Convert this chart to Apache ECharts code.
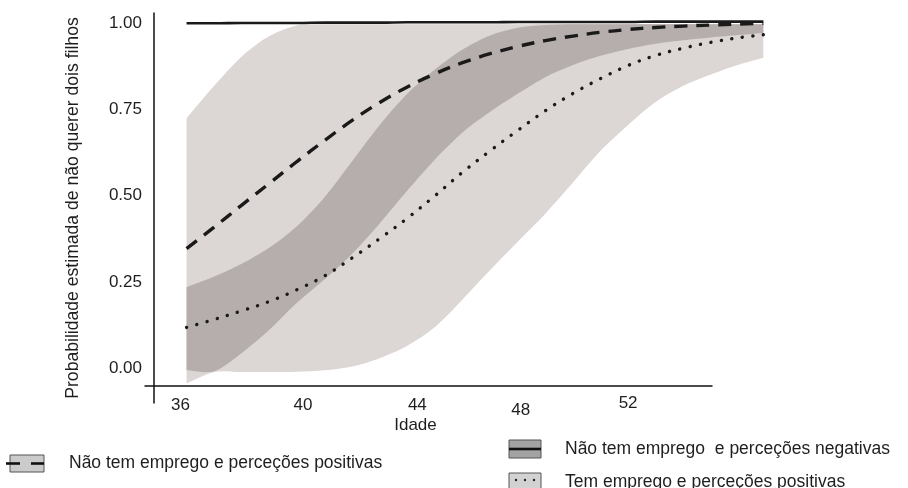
<!DOCTYPE html>
<html>
<head>
<meta charset="utf-8">
<script src="https://cdn.jsdelivr.net/npm/echarts@6/dist/echarts.min.js"></script>
<style>
html,body{margin:0;padding:0;background:#fff;}
#chart{width:908px;height:488px;}
</style>
</head>
<body>
<div id="chart"></div>
<script>
// ---- data ----
const ages = [36,37,38,39,40,41,42,43,44,45,46,47,48,49,50,51,52,53,54,55,56,56.9];

// Não tem emprego e perceções negativas (solid line)
const negNoJob = [0.999,0.999,1.000,1.000,1.000,1.001,1.001,1.001,1.002,1.002,1.002,1.002,1.003,1.003,1.003,1.003,1.003,1.004,1.004,1.004,1.004,1.004];

// Não tem emprego e perceções positivas (dashed line) and its interval
const posNoJob     = [0.347,0.409,0.473,0.536,0.599,0.660,0.718,0.770,0.815,0.853,0.885,0.911,0.932,0.949,0.962,0.973,0.981,0.987,0.991,0.994,0.997,0.999];
const posNoJobLow  = [-0.043,-0.010,0.045,0.112,0.190,0.258,0.332,0.420,0.515,0.605,0.683,0.743,0.795,0.843,0.878,0.905,0.925,0.940,0.950,0.958,0.965,0.971];
const posNoJobHigh = [0.724,0.818,0.903,0.962,0.993,0.996,0.996,0.996,0.996,0.996,0.996,0.996,0.996,0.997,0.997,0.997,0.997,0.997,0.997,0.997,0.997,0.997];

// Tem emprego e perceções positivas (dotted line) and its interval
const posJob     = [0.119,0.142,0.167,0.194,0.228,0.268,0.320,0.376,0.435,0.500,0.568,0.630,0.689,0.746,0.796,0.839,0.877,0.906,0.927,0.944,0.957,0.966];
const posJobLow  = [-0.004,-0.008,-0.010,-0.010,-0.009,-0.005,0.006,0.030,0.066,0.120,0.200,0.285,0.367,0.448,0.538,0.630,0.705,0.771,0.818,0.851,0.879,0.899];
const posJobHigh = [0.235,0.266,0.303,0.350,0.412,0.496,0.600,0.705,0.795,0.865,0.923,0.964,0.986,0.994,0.996,0.996,0.996,0.996,0.996,0.996,0.996,0.996];

const yTicks = [0, 0.25, 0.5, 0.75, 1];
const xTicks = [36, 40, 44, 48, 52];

const legendNames = [
  'Não tem emprego e perceções positivas',
  'Não tem emprego  e perceções negativas',
  'Tem emprego e perceções positivas'
];

// ---- derived band layers (union = light, overlap = dark) ----
const outerLow  = ages.map((a,i)=>Math.min(posJobLow[i], posNoJobLow[i]));
const outerHigh = ages.map((a,i)=>Math.max(posJobHigh[i], posNoJobHigh[i]));
const innerLow  = ages.map((a,i)=>Math.max(posJobLow[i], posNoJobLow[i]));
const innerHigh = ages.map((a,i)=>Math.min(posJobHigh[i], posNoJobHigh[i]));

const pairs = arr => ages.map((a,i)=>[a, arr[i]]);
const FONT = '"Liberation Sans", Arial, sans-serif';
const TXT = '#1e1e1e';
const LIGHT = '#dcd6d4';
const DARK = '#b5aeac';

// smooth curve through pixel points (Catmull-Rom as cubic Bezier)
function curveTo(pts){
  let d = '';
  const t = 0.9;
  for (let i = 0; i < pts.length - 1; i++){
    const p0 = pts[i-1] || pts[i], p1 = pts[i], p2 = pts[i+1], p3 = pts[i+2] || pts[i+1];
    const c1x = p1[0] + (p2[0]-p0[0])/6*t, c1y = p1[1] + (p2[1]-p0[1])/6*t;
    const c2x = p2[0] - (p3[0]-p1[0])/6*t, c2y = p2[1] - (p3[1]-p1[1])/6*t;
    d += ' C' + c1x + ' ' + c1y + ' ' + c2x + ' ' + c2y + ' ' + p2[0] + ' ' + p2[1];
  }
  return d;
}
function bandSeries(name, low, high, color, z){
  return {
    type:'custom', name:name, silent:true, z:z, clip:true,
    data:[[ages[0], low[0]]],
    renderItem:function(params, api){
      const up = ages.map((a,i)=>api.coord([a, high[i]]));
      const lo = ages.map((a,i)=>api.coord([a, low[i]])).reverse();
      const d = 'M' + up[0][0] + ' ' + up[0][1] + curveTo(up) +
                ' L' + lo[0][0] + ' ' + lo[0][1] + curveTo(lo) + ' Z';
      return {type:'path', shape:{pathData:d}, style:{fill:color, stroke:null}};
    }
  };
}

// per-label nudges to follow the reference's hand-placed tick labels
const xLabelStyle = {
  l36:{padding:[2,12,0,0]}, l40:{padding:[2,0,0,12]}, l44:{padding:[2,0,0,20]},
  l48:{padding:[7,0,0,6]}, l52:{padding:[0,0,0,0]}
};

const chart = echarts.init(document.getElementById('chart'));
chart.setOption({
  animation:false,
  backgroundColor:'#ffffff',
  textStyle:{fontFamily:FONT},
  grid:[
    {left:154, top:12.6, width:612.1, height:373.2},
    {left:145, top:12.6, width:567, height:373.2},
    {left:154, top:13, width:600, height:390}
  ],
  xAxis:[
    {type:'value', gridIndex:0, min:34.82, max:57,
     axisLine:{show:false}, axisTick:{show:false}, splitLine:{show:false},
     axisLabel:{customValues:xTicks, margin:9, fontSize:17, color:TXT, fontFamily:FONT,
       formatter:v=>'{l'+v+'|'+v+'}', rich:xLabelStyle}},
    {type:'value', gridIndex:1, min:0, max:1,
     axisLine:{show:true, lineStyle:{color:'#111', width:1.5}}, axisTick:{show:false},
     axisLabel:{show:false}, splitLine:{show:false},
     name:'Idade', nameLocation:'middle', nameGap:31,
     nameTextStyle:{fontSize:17, color:TXT, fontFamily:FONT, padding:[0,26,0,0]}},
    {type:'value', gridIndex:2, show:false, min:0, max:1}
  ],
  yAxis:[
    {type:'value', gridIndex:0, min:-0.05, max:1.03,
     axisLine:{show:false}, axisTick:{show:false}, splitLine:{show:false},
     axisLabel:{customValues:yTicks, margin:12, fontSize:17, color:TXT, fontFamily:FONT,
       formatter:v=>v.toFixed(2)}},
    {type:'value', gridIndex:1, show:false, min:0, max:1},
    {type:'value', gridIndex:2, min:0, max:1,
     axisLine:{show:true, lineStyle:{color:'#111', width:1.5}}, axisTick:{show:false},
     axisLabel:{show:false}, splitLine:{show:false},
     name:'Probabilidade estimada de não querer dois filhos', nameLocation:'middle', nameGap:72,
     nameTextStyle:{fontSize:17.6, color:TXT, fontFamily:FONT}}
  ],
  series:[
    bandSeries('outer band', outerLow, outerHigh, LIGHT, 1),
    bandSeries('overlap band', innerLow, innerHigh, DARK, 2),
    {type:'line', name:legendNames[1], data:pairs(negNoJob), smooth:0.4, symbol:'none', z:5,
     lineStyle:{color:'#1a1a1a', width:2.6}},
    {type:'line', name:legendNames[0], data:pairs(posNoJob), smooth:0.4, symbol:'none', z:5,
     lineStyle:{color:'#1a1a1a', width:3.4, type:[13,9]}},
    {type:'line', name:legendNames[2], data:pairs(posJob), smooth:0.4, symbol:'none', z:5,
     lineStyle:{color:'#1a1a1a', width:3.4, type:[0.1,10.5], cap:'round'}}
  ],
  graphic:[
    // left legend entry (dashed)
    {type:'rect', shape:{x:10, y:455, width:34, height:17}, style:{fill:'#cbcbcb', stroke:'#555', lineWidth:1}},
    {type:'line', shape:{x1:6, y1:463.5, x2:20, y2:463.5}, style:{stroke:'#111', lineWidth:2.6}},
    {type:'line', shape:{x1:31, y1:463.5, x2:44, y2:463.5}, style:{stroke:'#111', lineWidth:2.6}},
    {type:'text', x:69, y:463, style:{text:legendNames[0], fill:TXT, font:'17.5px '+FONT, verticalAlign:'middle'}},
    // right legend entry 1 (solid)
    {type:'rect', shape:{x:509, y:440, width:32, height:18}, style:{fill:'#a3a3a3', stroke:'#555', lineWidth:1}},
    {type:'line', shape:{x1:509, y1:449, x2:541, y2:449}, style:{stroke:'#111', lineWidth:2.6}},
    {type:'text', x:565, y:449, style:{text:legendNames[1], fill:TXT, font:'17.5px '+FONT, verticalAlign:'middle'}},
    // right legend entry 2 (dotted)
    {type:'rect', shape:{x:509, y:473, width:32, height:18}, style:{fill:'#d2d2d2', stroke:'#555', lineWidth:1}},
    {type:'circle', shape:{cx:516, cy:480, r:1.2}, style:{fill:'#222'}},
    {type:'circle', shape:{cx:525, cy:480, r:1.2}, style:{fill:'#222'}},
    {type:'circle', shape:{cx:534, cy:480, r:1.2}, style:{fill:'#222'}},
    {type:'text', x:565, y:482, style:{text:legendNames[2], fill:TXT, font:'17.5px '+FONT, verticalAlign:'middle'}}
  ]
});
</script>
</body>
</html>
